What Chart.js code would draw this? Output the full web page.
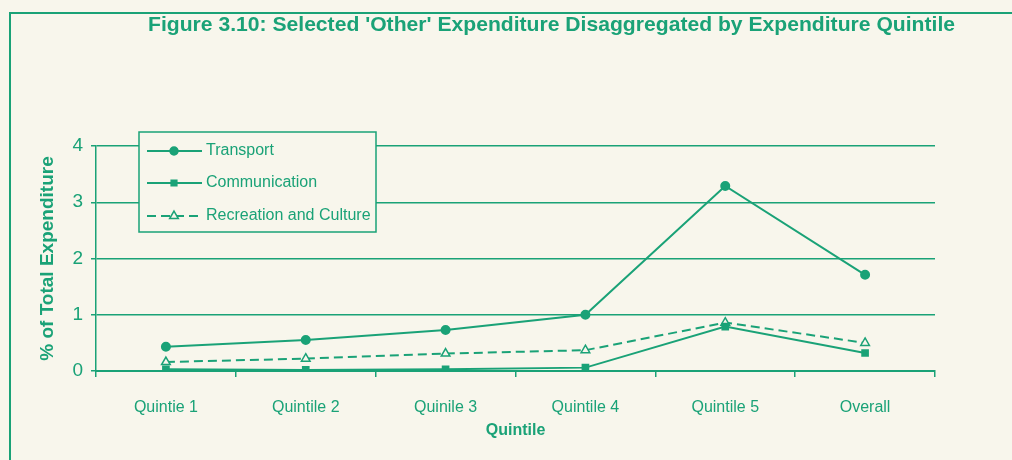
<!DOCTYPE html>
<html>
<head>
<meta charset="utf-8">
<script src="https://cdn.jsdelivr.net/npm/chart.js@4/dist/chart.umd.min.js"></script>
<style>
  body { margin: 0; background: #f8f6ec; overflow: hidden; }
  #wrap { position: relative; width: 1012px; height: 460px; }
  #frame { position: absolute; left: 9px; top: 12px; width: 1100px; height: 500px;
           border-left: 2px solid #1aa277; border-top: 2px solid #1aa277; pointer-events: none; }
</style>
</head>
<body>
<div id="wrap">
  <canvas id="myChart" width="1012" height="460"></canvas>
  <div id="frame"></div>
</div>
<script>
const GREEN = '#1aa277'
const BG = '#f8f6ec'

const chartTitle = "Figure 3.10: Selected 'Other' Expenditure Disaggregated by Expenditure Quintile"
const quintiles = ['Quintie 1', 'Quintile 2', 'Quinile 3', 'Quintile 4', 'Quintile 5', 'Overall']
const transport = [0.43, 0.55, 0.73, 1.0, 3.29, 1.71]
const communication = [0.03, 0.02, 0.03, 0.06, 0.79, 0.32]
const recreation = [0.16, 0.22, 0.31, 0.37, 0.86, 0.5]
const yTicks = [0, 1, 2, 3, 4]

// title drawn at its place in the scan, squeezed to the printed width
const titlePlugin = {
  id: 'scanTitle',
  afterDraw(chart) {
    const ctx = chart.ctx
    ctx.save()
    ctx.font = 'bold 21px "Liberation Sans", Arial, sans-serif'
    ctx.fillStyle = GREEN
    ctx.textBaseline = 'middle'
    const w = ctx.measureText(chartTitle).width
    ctx.translate(148, 25)
    ctx.scale(807 / w, 1)
    ctx.fillText(chartTitle, 0, 0)
    ctx.restore()
  }
}

// boxed legend sitting over the top gridlines
const legendPlugin = {
  id: 'boxLegend',
  afterDraw(chart) {
    const ctx = chart.ctx
    ctx.save()
    ctx.fillStyle = BG
    ctx.fillRect(139, 132, 237, 100)
    ctx.strokeStyle = GREEN
    ctx.lineWidth = 1.5
    ctx.strokeRect(139, 132, 237, 100)
    const rows = [151, 183, 216]
    chart.data.datasets.forEach(function(ds, i) {
      const y = rows[i]
      ctx.strokeStyle = GREEN
      ctx.lineWidth = 2
      ctx.setLineDash(ds.borderDash || [])
      ctx.beginPath()
      ctx.moveTo(147, y)
      ctx.lineTo(202, y)
      ctx.stroke()
      ctx.setLineDash([])
      ctx.fillStyle = ds.backgroundColor
      ctx.strokeStyle = GREEN
      ctx.lineWidth = 1.5
      Chart.helpers.drawPoint(ctx, {
        pointStyle: ds.pointStyle, radius: ds.pointRadius, borderWidth: 1.5
      }, 174, y)
      ctx.fillStyle = GREEN
      ctx.font = '16px "Liberation Sans", Arial, sans-serif'
      ctx.textBaseline = 'middle'
      ctx.fillText(ds.label, 206, y)
    })
    ctx.restore()
  }
}

function drawChart() {
  const ctx = document.getElementById('myChart').getContext('2d')
  new Chart(ctx, {
    type: 'line',
    data: {
      labels: quintiles,
      datasets: [{
        label: 'Transport',
        data: transport,
        borderColor: GREEN,
        backgroundColor: GREEN,
        borderWidth: 2,
        pointStyle: 'circle',
        pointRadius: 4,
        tension: 0
      }, {
        label: 'Communication',
        data: communication,
        borderColor: GREEN,
        backgroundColor: GREEN,
        borderWidth: 2,
        pointStyle: 'rect',
        pointRadius: 4,
        tension: 0
      }, {
        label: 'Recreation and Culture',
        data: recreation,
        borderColor: GREEN,
        backgroundColor: BG,
        borderWidth: 2,
        borderDash: [9, 5],
        pointStyle: 'triangle',
        pointRadius: 5,
        pointBorderWidth: 1.5,
        tension: 0
      }]
    },
    options: {
      responsive: false,
      animation: false,
      devicePixelRatio: 1,
      layout: { padding: { left: 0, right: 77, top: 146, bottom: 0 } },
      plugins: {
        legend: { display: false },
        title: { display: false },
        tooltip: { enabled: false }
      },
      scales: {
        x: {
          offset: true,
          afterFit: function(s) { s.height = 89 },
          grid: { offset: true, drawOnChartArea: false, drawTicks: true, tickLength: 6, color: GREEN, lineWidth: 1.5 },
          border: { display: true, color: GREEN, width: 2 },
          ticks: { color: GREEN, padding: 21, font: { family: '"Liberation Sans", Arial, sans-serif', size: 16 } },
          title: {
            display: true, text: 'Quintile', color: GREEN,
            font: { family: '"Liberation Sans", Arial, sans-serif', size: 16, weight: 'bold' },
            padding: { top: 0, bottom: 20 }
          }
        },
        y: {
          min: 0,
          max: 4,
          afterFit: function(s) { s.width = 96 },
          afterBuildTicks: function(s) { s.ticks = yTicks.map(function(v) { return { value: v } }) },
          grid: { color: GREEN, lineWidth: 1.5, tickLength: 5 },
          border: { display: true, color: GREEN, width: 1.5 },
          ticks: { color: GREEN, padding: 8, font: { family: '"Liberation Sans", Arial, sans-serif', size: 19 } },
          title: {
            display: true, text: '% of Total Expenditure', color: GREEN,
            font: { family: '"Liberation Sans", Arial, sans-serif', size: 19, weight: 'bold' },
            padding: { top: 36, bottom: 0 }
          }
        }
      }
    },
    plugins: [titlePlugin, legendPlugin]
  })
}

drawChart()
</script>
</body>
</html>
